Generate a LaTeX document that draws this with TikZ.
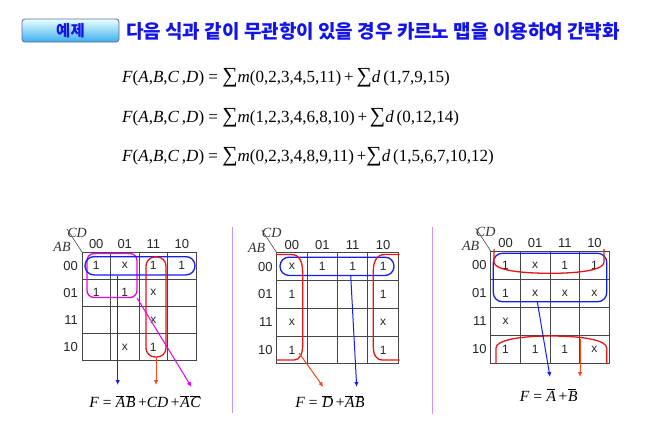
\documentclass[tikz,border=0pt]{standalone}
\usepackage{fontspec}
\setmainfont{Liberation Serif}
\newfontfamily\sansf{Liberation Sans}
\newfontfamily\kr{Noto Sans CJK KR}
\usetikzlibrary{arrows.meta,calc}
\definecolor{kblue}{RGB}{20,30,240}
\definecolor{kred}{RGB}{230,20,20}
\definecolor{korange}{RGB}{250,70,20}
\definecolor{kmag}{RGB}{235,0,235}
\definecolor{gridc}{RGB}{70,70,70}
\definecolor{sepc}{RGB}{205,145,240}
\definecolor{titleblue}{RGB}{20,20,230}
\newcommand\ob[1]{\kern0.6pt$\overline{\mbox{\itshape #1}\kern-1.2pt}$\kern1.2pt}
\newcommand\sm{{\fontsize{21.5}{21.5}\selectfont ∑}}
\tikzset{
  gridline/.style={draw=gridc, line width=0.9pt},
  cell/.style={font=\sansf\fontsize{12}{12}\selectfont, text=black!85, inner sep=0pt},
  hdr/.style={font=\sansf\fontsize{13}{13}\selectfont, text=black!85, inner sep=0pt},
  vlab/.style={font=\itshape\fontsize{14}{14}\selectfont, text=black!80, inner sep=0pt},
  grp/.style={draw=#1, line width=1.3pt, rounded corners=8pt, inner sep=0pt},
  wrap/.style={draw=kred, line width=1.3pt},
  arr/.style={draw=#1, line width=1pt, -{Latex[length=5pt,width=4.5pt]}},
  formula/.style={font=\fontsize{15.5}{15.5}\selectfont, inner sep=0pt},
  eqn/.style={font=\fontsize{17}{17}\selectfont, inner sep=0pt, anchor=west},
  sepline/.style={draw=sepc, line width=1.4pt},
}
\newcommand\kmap[6]{%
  \draw[gridline] (#2,#3) rectangle ({#2+4*#4},{#3+4*#5});
  \foreach \i in {1,2,3} {
    \draw[gridline] ({#2+\i*#4},#3) -- ({#2+\i*#4},{#3+4*#5});
    \draw[gridline] (#2,{#3+\i*#5}) -- ({#2+4*#4},{#3+\i*#5});
  }
  \foreach \c/\t in {0/00,1/01,2/11,3/10} {
    \node[hdr] (#1-h\c) at ({#2+(\c+0.5)*#4},{#3-7.5}) {\t};
    \node[hdr,anchor=east] (#1-v\c) at ({#2-4},{#3+(\c+0.5)*#5}) {\t};
  }
  \node[vlab] (#1-cd) at ({#2-5},{#3-19.5}) {CD};
  \node[vlab] (#1-ab) at ({#2-20},{#3-5}) {AB};
  \draw[gridc, line width=0.6pt] ({#2-15},{#3-23}) -- (#2,#3);
  \foreach \r/\c/\t in {#6} {
    \node[cell] (#1-\r\c) at ({#2+(\c+0.5)*#4},{#3+(\r+0.5)*#5}) {\t};
  }
}
\begin{document}
\begin{tikzpicture}[x=1pt,y=-1pt]
\useasboundingbox (0,0) rectangle (650,439);
\fill[white] (0,0) rectangle (650,439);
% title
\node[draw=gray!80!blue, line width=0.8pt, rounded corners=3pt, top color=cyan!8, bottom color={rgb,255:red,60;green,175;blue,240},
      minimum width=97pt, minimum height=23pt, inner sep=0pt,
      font=\kr\bfseries\fontsize{15.5}{15.5}\selectfont, text=titleblue] (tb) at (70.5,30.5) {예제};
\node[anchor=west, inner sep=0pt, font=\kr\bfseries\fontsize{19}{19}\selectfont, text=titleblue] (title) at (126,31.5)
  {다음 식과 같이 무관항이 있을 경우 카르노 맵을 이용하여 간략화};
% equations
\node[eqn] (e1) at (122,78) {\textit{F}(\textit{A},\textit{B},\textit{C}\,,\textit{D}) = \sm\textit{m}(0,2,3,4,5,11)\,+\,\sm\textit{d}\,(1,7,9,15)};
\node[eqn] (e2) at (122,118) {\textit{F}(\textit{A},\textit{B},\textit{C}\,,\textit{D}) = \sm\textit{m}(1,2,3,4,6,8,10)\,+\,\sm\textit{d}\,(0,12,14)};
\node[eqn] (e3) at (122,157) {\textit{F}(\textit{A},\textit{B},\textit{C}\,,\textit{D}) = \sm\textit{m}(0,2,3,4,8,9,11)\,+\sm\textit{d}\,(1,5,6,7,10,12)};
% separators
\draw[sepline] (232.3,227) -- (232.3,413);
\draw[sepline] (432.3,227) -- (432.3,414);
% ---------- map 1
\kmap{ka}{82}{252}{28.5}{27.2}{0/0/1,0/1/x,0/2/1,0/3/1,1/0/1,1/1/1,1/2/x,2/2/x,3/1/x,3/2/1}
\node[grp=kmag, rounded corners=7pt, minimum width=50pt, minimum height=44pt] (ka-gm) at (112,275.5) {};
\node[grp=kblue, rounded corners=9pt, minimum width=110pt, minimum height=18.3pt] (ka-gb) at (140,265.8) {};
\node[grp=kred, rounded corners=9pt, minimum width=20pt, minimum height=100pt] (ka-gr) at (156,307) {};
\node[formula] (fa) at (145,401.7) {\textit{F} = \ob{A}\ob{B}\,+\textit{CD}\,+\ob{A}\ob{C}};
\coordinate (ta-b) at (117.7,385);
\coordinate (ta-r) at (156,385);
\coordinate (ta-m) at (191.5,387);
\draw[arr=kblue] (ta-b |- ka-gb.south) -- (ta-b);
\draw[arr=korange] (ka-gr.south) -- (ta-r);
\draw[arr=kmag] (ka-gm.-42) -- (ta-m);
% ---------- map 2
\kmap{kb}{276.7}{252.7}{30.4}{27.8}{0/0/x,0/1/1,0/2/1,0/3/1,1/0/1,1/3/1,2/0/x,2/3/x,3/0/1,3/3/1}
\node[grp=kblue, rounded corners=9pt, minimum width=114pt, minimum height=18.3pt] (kb-gb) at (337,266.3) {};
\draw[wrap] (276,254.5) -- (291,254.5) .. controls (300,254.5) and (302.7,262) .. (302.7,274) -- (302.7,344)
  .. controls (302.7,354) and (300,360) .. (294,360) -- (276,360);
\draw[wrap] (399.5,254.5) -- (385,254.5) .. controls (376,254.5) and (373.3,262) .. (373.3,272) -- (373.3,346)
  .. controls (373.3,355) and (376,360) .. (383,360) -- (399.5,360);
\coordinate (kb-wl) at (299,353);
\node[formula] (fb) at (330,401.7) {\textit{F} = \ob{D}\,+\ob{A}\ob{B}};
\coordinate (tb-r) at (323.3,387);
\coordinate (tb-b) at (356.7,387);
\draw[arr=korange] (kb-wl) -- (tb-r);
\draw[arr=kblue] (350.7,275.5) -- (tb-b);
% ---------- map 3
\kmap{kc}{490.7}{251}{29.65}{28.1}{0/0/1,0/1/x,0/2/1,0/3/1,1/0/1,1/1/x,1/2/x,1/3/x,2/0/x,3/0/1,3/1/1,3/2/1,3/3/x}
\node[grp=kblue, rounded corners=9pt, minimum width=113.4pt, minimum height=48.4pt] (kc-gb) at (550,277.5) {};
\draw[wrap] (494,249) -- (494,262) .. controls (494,270) and (520,273.3) .. (550,273.3)
  .. controls (580,273.3) and (604,270) .. (604,262) -- (604,249);
\draw[wrap] (496,364) -- (496,348) .. controls (496,340) and (520,336) .. (551,336)
  .. controls (582,336) and (606.7,340) .. (606.7,348) -- (606.7,364);
\coordinate (kc-wb) at (580,338.5);
\node[formula] (fc) at (548.7,395) {\textit{F} = \ob{A}\,+\ob{B}};
\coordinate (tc-b) at (550,377);
\coordinate (tc-r) at (580,377);
\draw[arr=kblue] (537.3,301.7) -- (tc-b);
\draw[arr=korange] (kc-wb) -- (tc-r);
\end{tikzpicture}
\end{document}
